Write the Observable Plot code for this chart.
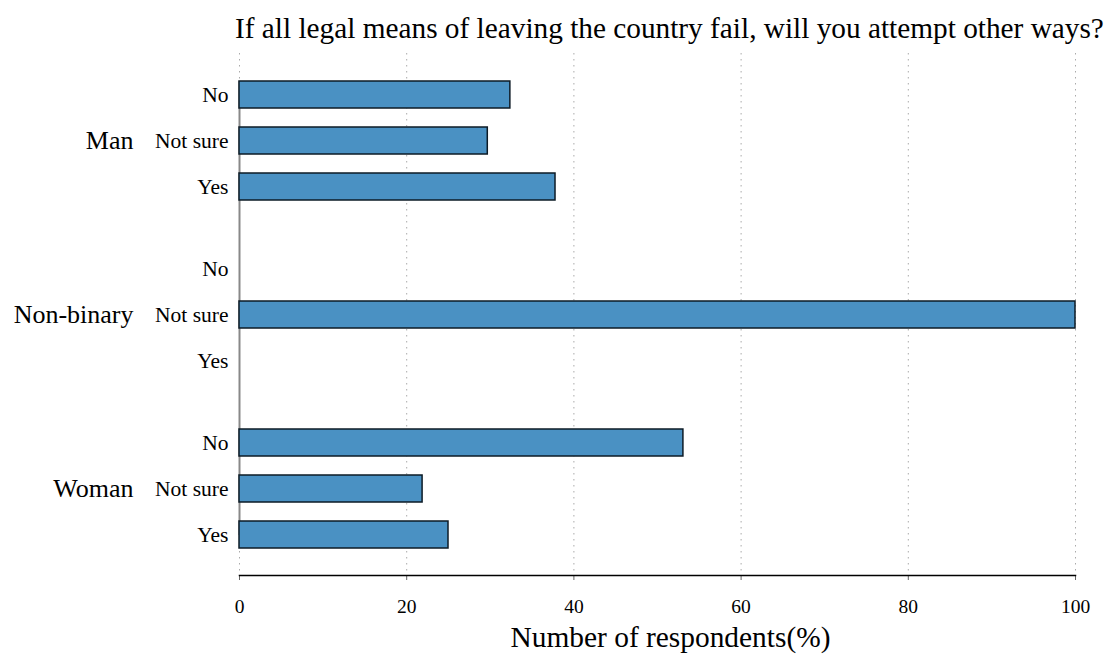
<!DOCTYPE html>
<html><head><meta charset="utf-8">
<script src="https://cdn.jsdelivr.net/npm/d3@7"></script>
<script src="https://cdn.jsdelivr.net/npm/@observablehq/plot@0.6"></script>
<style>
body{margin:0;background:#fff;font-family:"Liberation Serif",serif;}
#title{height:48px;position:relative;width:1107px;}
#title span{position:absolute;left:235px;top:14px;font-size:29.3px;line-height:1;white-space:nowrap;color:#000;}
#chart svg{display:block;}
</style></head><body>
<div id="title"><span>If all legal means of leaving the country fail, will you attempt other ways?</span></div>
<div id="chart"></div>
<script>
const genders = ["Man", "Non-binary", "Woman"];
const answers = ["No", "Not sure", "Yes"];
const manValues = [32.4, 29.7, 37.8];
const nonBinaryValues = [0, 100, 0];
const womanValues = [53.1, 21.9, 25.0];
const xTicks = [0, 20, 40, 60, 80, 100];
const xLabel = "Number of respondents(%)";

const seriesByGender = [manValues, nonBinaryValues, womanValues];
const data = [];
genders.forEach((g, gi) => answers.forEach((a, ai) => data.push({gender: g, answer: a, value: seriesByGender[gi][ai]})));
const baseline = genders.map(g => ({gender: g, value: 0}));

const chart = Plot.plot({
  width: 1107,
  height: 606,
  marginTop: 2,
  marginBottom: 76,
  marginLeft: 239,
  marginRight: 32,
  style: {fontFamily: "Liberation Serif", color: "#000", background: "#fff"},
  x: {domain: [0, 100]},
  fy: {domain: genders, padding: 0, insetTop: 3, insetBottom: 3},
  y: {domain: answers, paddingInner: 0.42, paddingOuter: 0.6},
  marks: [
    Plot.gridX(xTicks, {stroke: "#aaa", strokeOpacity: 1, strokeDasharray: "1.5,4.5"}),
    Plot.ruleX(baseline.filter(d => d.gender === genders[0]), {x: "value", fy: "gender", stroke: "#888", strokeWidth: 2, insetTop: 28}),
    Plot.ruleX(baseline.filter(d => d.gender === genders[1]), {x: "value", fy: "gender", stroke: "#888", strokeWidth: 2}),
    Plot.ruleX(baseline.filter(d => d.gender === genders[2]), {x: "value", fy: "gender", stroke: "#888", strokeWidth: 2, insetBottom: 40}),
    Plot.barX(data.filter(d => d.value > 0), {x: "value", y: "answer", fy: "gender", fill: "#4a91c3", stroke: "#0d1b26", strokeWidth: 1.5}),
    Plot.axisY({tickSize: 0, tickPadding: 11, fontSize: 21.5, label: null}),
    Plot.axisFy({anchor: "left", tickSize: 0, tickPadding: 106, fontSize: 26, label: null}),
    Plot.axisX(xTicks, {anchor: "bottom", tickSize: 5, tickPadding: 19, fontSize: 19.5, label: null, stroke: "#666"}),
    Plot.frame({facet: "super", anchor: "bottom", stroke: "#000", strokeWidth: 1.5}),
    Plot.text([xLabel], {facet: "super", frameAnchor: "bottom", dx: 13, dy: 62, fontSize: 29.4, lineAnchor: "middle", fill: "#000"})
  ]
});
document.getElementById("chart").appendChild(chart);
</script>
</body></html>
